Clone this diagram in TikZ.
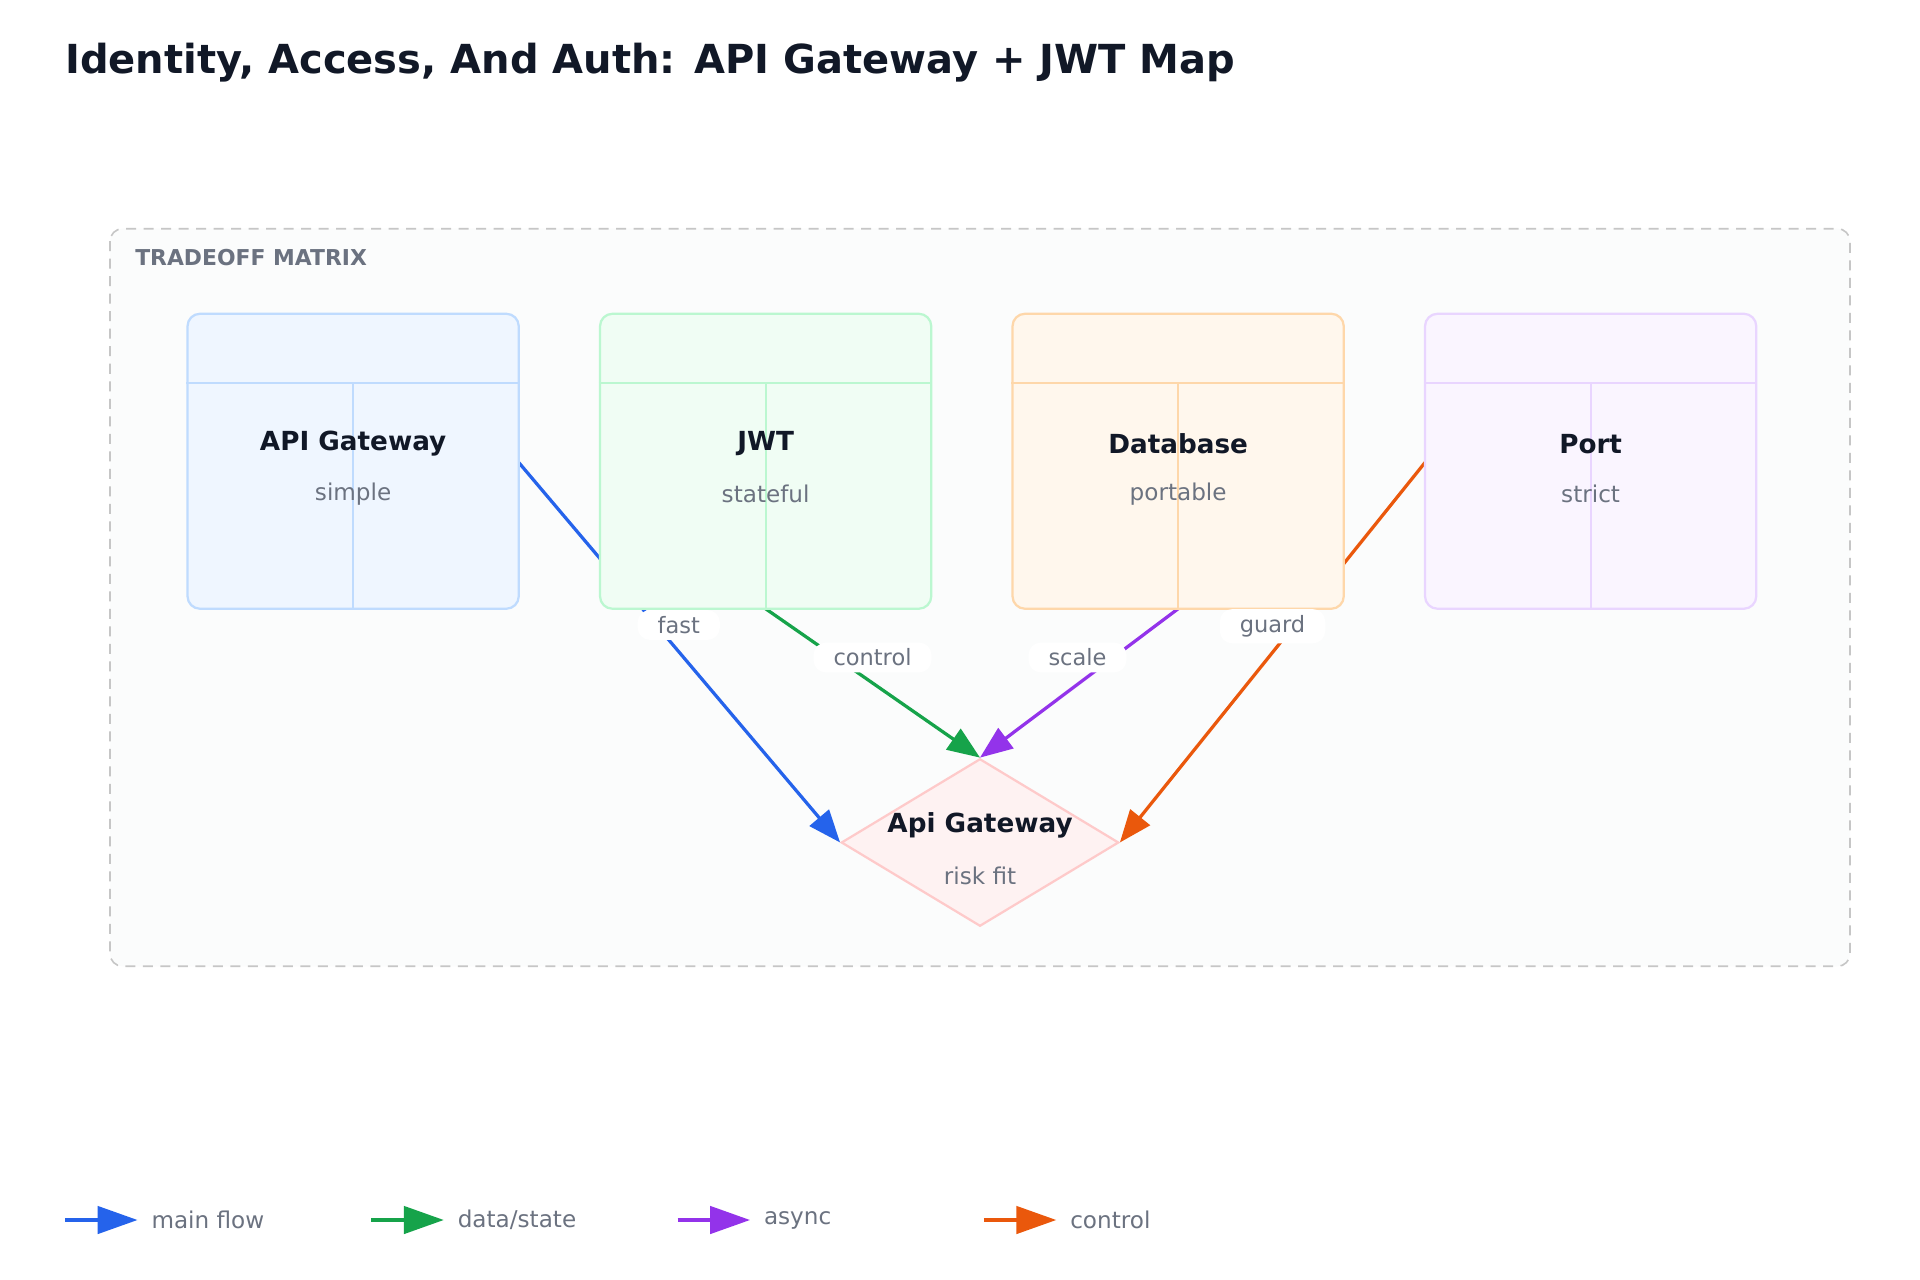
\documentclass[tikz,border=0pt]{standalone}
\usepackage{fontspec}
\setmainfont{DejaVu Sans}
\usetikzlibrary{arrows.meta,shapes.geometric}
\definecolor{cblue}{HTML}{2563EB}\definecolor{cgreen}{HTML}{16A34A}
\definecolor{cpurple}{HTML}{9333EA}\definecolor{corange}{HTML}{EA580C}
\definecolor{tdark}{HTML}{111827}\definecolor{tgray}{HTML}{6B7280}
\definecolor{fb}{HTML}{EFF6FF}\definecolor{sb}{HTML}{BFDBFE}
\definecolor{fg}{HTML}{F0FDF4}\definecolor{sg}{HTML}{BBF7D0}
\definecolor{fo}{HTML}{FFF7ED}\definecolor{so}{HTML}{FED7AA}
\definecolor{fp}{HTML}{FAF5FF}\definecolor{sp}{HTML}{E9D5FF}
\definecolor{fr}{HTML}{FEF2F2}\definecolor{sr}{HTML}{FECACA}
\tikzset{
 card/.style={draw=#1,line width=1.8pt,rounded corners=10pt,minimum width=265pt,minimum height=236pt,inner sep=0pt},
 edge/.style={line width=2.6pt,draw=#1,-{Triangle[length=26pt,width=20pt,fill=#1]}},
 elabel/.style={fill=white,rounded corners=10pt,text=tgray,font=\fontsize{18}{20}\selectfont,inner xsep=16pt,inner ysep=5pt},
 ttl/.style={text=tdark,font=\bfseries\fontsize{21}{24}\selectfont},
 sub/.style={text=tgray,font=\fontsize{18.5}{21}\selectfont},
}
\begin{document}
\begin{tikzpicture}[x=1pt,y=-1pt]
\useasboundingbox[fill=white] (0,0) rectangle (1536,1024);
\node[anchor=west,text=tdark,font=\bfseries\fontsize{32}{36}\selectfont,inner sep=0pt] (title) at (52,50) {Identity, Access, And Auth: API Gateway + JWT Map};
\draw[draw=gray!45,line width=1.3pt,fill={rgb,255:red,251;green,252;blue,252},rounded corners=10pt,dash pattern=on 8pt off 6pt] (88,183) rectangle (1480,773);
\node[anchor=west,text=tgray,font=\bfseries\fontsize{17.5}{20}\selectfont,inner sep=0pt] (frametitle) at (108,206) {TRADEOFF MATRIX};
\coordinate (a) at (282.5,369);
\coordinate (b) at (612.5,369);
\coordinate (c) at (942.5,369);
\coordinate (d) at (1272.5,369);
\node[diamond,aspect=1.657,minimum width=222pt,minimum height=134pt,inner sep=0pt,draw=sr,fill=fr,line width=1.8pt] (r) at (784,674) {};
\draw[edge=cblue] (415,370) -- (r.west);
\draw[edge=cgreen] (612.5,487) -- (r.north);
\draw[edge=cpurple] (942.5,487) -- (r.north);
\draw[edge=corange] (1140,370) -- (r.east);
\foreach \n/\p/\f/\s/\t/\u in {A/a/fb/sb/API Gateway/simple, B/b/fg/sg/JWT/stateful, C/c/fo/so/Database/portable, D/d/fp/sp/Port/strict}{
  \node[card=\s,fill=\f] (\n) at (\p) {};
  \draw[\s,line width=1.4pt] ([yshift=-56pt]\n.north west) -- ([yshift=-56pt]\n.north east);
  \draw[\s,line width=1.4pt] ([yshift=-56pt]\n.north) -- (\n.south);
  \node[ttl] (\n t) at ([yshift=14pt]\p) {\t};
  \node[sub] (\n s) at ([yshift=-26pt]\p) {\u};
}
\node[ttl] (rt) at (784,660) {Api Gateway};
\node[sub] (rs) at (784,701) {risk fit};
\node[elabel] (l1) at (543,500) {fast};
\node[elabel] (l2) at (698,526) {control};
\node[elabel] (l3) at (862,526) {scale};
\node[elabel] (l4) at (1018,501) {guard};
\foreach \i/\x/\c/\t in {1/52/cblue/main flow,2/297/cgreen/{data/state},3/542/cpurple/async,4/787/corange/control}{
  \coordinate (s\i) at (\x,976);
  \coordinate (e\i) at (\x+58,976);
  \draw[line width=2.6pt,draw=\c,-{Triangle[length=32pt,width=22pt,fill=\c]}] (s\i) -- (e\i);
  \node[anchor=west,text=tgray,font=\fontsize{18.5}{21}\selectfont,inner sep=0pt] (lg\i) at (\x+69,976) {\t};
}
\end{tikzpicture}
\end{document}
